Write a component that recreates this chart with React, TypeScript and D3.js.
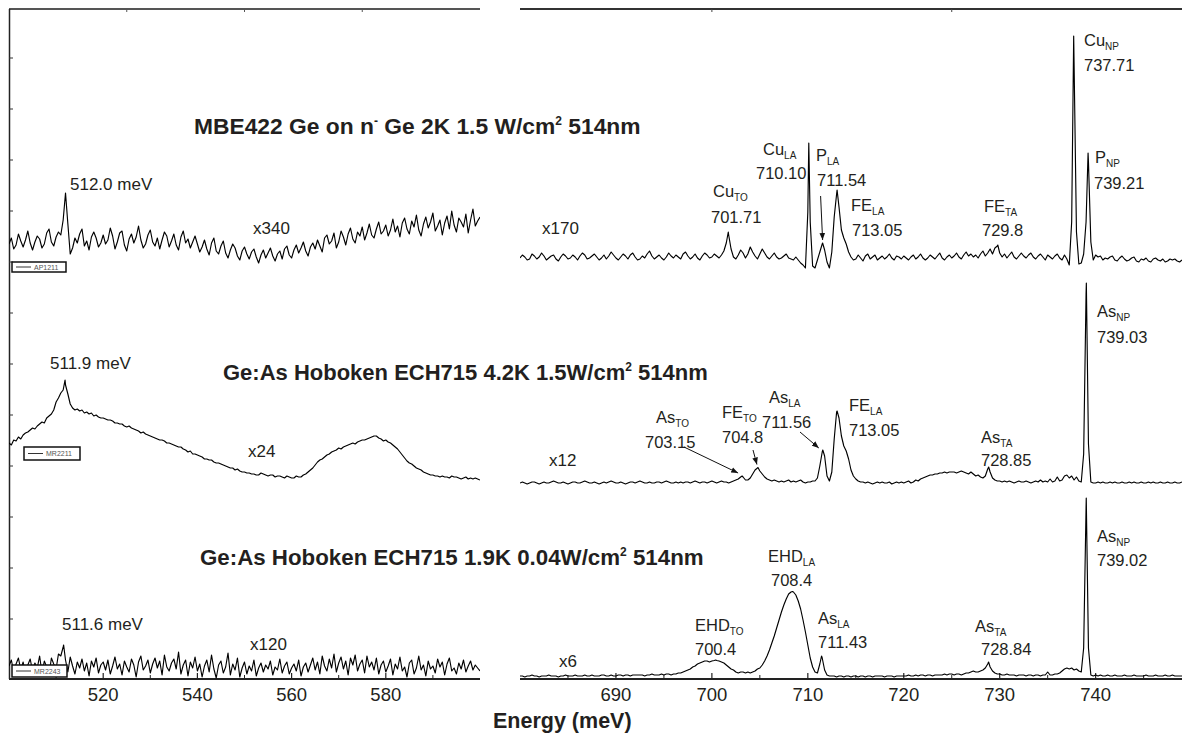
import React from "react";
import * as d3 from "d3";

// ---------- spectra (intensity in arbitrary units, 0 = trace baseline) ----------
// low-energy window, sampled every 0.5 meV from 500 meV
const L_START = 500;
const L_STEP = 0.5;

const AP1211 = [
  18,24,13,17,28,21,15,22,31,19, 12,20,26,23,14,18,29,33,20,16,
  25,30,27,42,69,38,8,14,24,19, 28,33,16,21,12,25,30,24,15,19,
  27,18,22,34,26,13,20,29,31,17, 11,23,28,19,25,36,22,14,18,27,
  32,20,16,24,13,22,30,26,15,21, 28,17,12,25,31,19,23,14,20,26,
  18,10,15,22,13,7,19,24,11,8, 16,21,9,4,12,18,14,6,2,11,
  15,8,3,10,13,5,-1,7,12,4, 9,14,6,1,8,11,3,13,16,7,
  4,12,17,9,14,20,11,6,15,19, 13,22,16,10,24,27,18,21,29,14,
  20,31,25,17,28,34,23,19,30,26, 35,22,29,38,27,24,33,40,28,31,
  37,26,32,43,30,36,25,39,44,33, 28,41,35,47,32,26,38,45,34,40,
  49,31,36,42,27,39,46,33,51,37, 30,44,40,35,48,29,42,53,36,41,
  45,
];
const AP1211_LINES: [number, number][] = [[512.0, 69]];

const MR2211 = [
  47,45,50,49,53,51,55,57,58,60, 62,61,64,66,68,67,72,74,76,80,
  88,92,97,100,105,96,86,82,80,81, 79,80,77,78,76,77,74,75,73,72,
  72,71,70,70,69,67,67,66,66,64, 63,64,62,61,60,59,57,58,56,55,
  54,53,52,51,50,50,49,47,47,46, 45,44,43,43,41,40,38,39,36,36,
  35,34,33,31,31,30,30,28,27,27, 26,25,24,23,22,22,20,21,19,18,
  18,17,17,16,16,15,15,17,16,15, 14,15,15,13,14,14,13,12,14,13,
  12,12,14,13,13,15,16,18,20,22, 25,28,30,31,33,35,36,38,39,40,
  42,41,43,44,45,46,47,46,48,49, 50,50,51,52,53,54,54,52,51,49,
  50,48,47,45,43,41,38,35,32,29, 27,26,24,22,21,20,18,17,16,15,
  15,14,14,13,14,13,13,12,14,13, 13,12,11,12,13,11,12,11,12,11,
  10,
];
const MR2211_LINES: [number, number][] = [[511.9, 110]];

const MR2243 = [
  14,20,8,16,22,10,18,6,15,21, 9,17,12,24,7,19,13,5,22,16,
  11,26,24,33,20,8,23,14,6,18, 12,21,9,17,4,19,13,22,7,15,
  18,10,20,6,14,23,11,16,5,19, 13,8,21,15,3,18,24,10,14,20,
  7,16,22,12,19,5,25,13,9,17, 21,11,28,6,15,20,4,18,12,23,
  9,16,3,14,20,8,25,11,2,15, 19,7,13,27,5,16,10,22,3,12,
  18,6,14,9,20,4,12,17,8,15, 11,19,5,13,10,21,7,14,18,6,
  12,16,9,20,4,13,17,8,15,22, 10,18,6,24,14,9,21,12,26,8,
  17,23,11,19,5,22,15,25,9,16, 20,7,24,13,18,10,22,6,15,19,
  8,14,21,5,16,11,23,9,13,3, 17,20,6,12,24,10,15,4,19,11,
  14,7,21,13,18,5,16,22,9,12, 6,17,11,20,8,14,19,10,15,12,
  9,
];
const MR2243_LINES: [number, number][] = [[511.6, 35]];

// near-gap window, sampled every 0.25 meV from 680 meV
const R_START = 680;
const R_STEP = 0.25;

const MBE422 = [
  4,7,5,2,3,8,6,3,5,9, 6,2,4,6,7,3,1,5,8,6,
  3,4,7,5,2,6,9,7,3,4, 6,8,5,2,4,7,3,6,10,7,
  4,2,5,8,6,3,7,9,5,2, 3,6,4,8,11,6,3,5,7,4,
  2,5,9,6,4,7,5,3,8,10, 6,3,5,8,4,2,6,9,7,4,
  5,8,6,4,7,11,19,27,13,5, 3,7,12,9,4,8,15,10,6,3,
  8,13,9,5,3,6,9,5,3,4, 6,8,4,3,2,5,2,-1,-3,-6,
  50,40,-4,-6,2,10,18,12,0,-6, 10,45,68,55,32,24,18,10,5,2,
  3,7,4,1,6,8,3,5,7,2, 4,6,3,5,8,4,2,6,5,3,
  6,4,2,5,7,3,5,8,4,2, 4,7,5,3,6,9,4,2,5,7,
  4,6,9,5,3,7,10,6,8,5, 7,4,8,11,6,9,13,8,14,16,
  9,5,8,4,7,10,5,3,6,9, 6,4,7,9,5,3,6,8,5,2,
  7,5,3,6,8,4,2,7,3,-3, 40,200,30,-2,-1,8,40,100,20,2,
  7,5,6,2,4,3,5,6,2,1, 4,6,3,1,2,4,5,1,0,3,
  2,4,1,0,3,4,2,1,3,0, 1,3,2,3,1,0,2,
];
const MBE422_LINES: [number, number][] = [
  [701.71, 30], [710.10, 119], [711.54, 19], [713.05, 72],
  [729.8, 17], [737.71, 226], [739.21, 109],
];

const ECH715_42K = [
  1,2,1,0,1,2,2,1,0,1, 2,1,1,2,3,2,1,1,2,1,
  0,1,2,2,1,1,2,3,2,1, 1,2,1,0,1,2,1,2,3,2,
  1,1,2,1,0,1,2,2,1,2, 3,2,1,1,2,1,1,2,2,1,
  2,3,2,1,1,2,1,2,1,2, 2,1,2,3,2,1,2,2,1,2,
  3,2,1,2,3,2,2,1,2,3, 4,5,7,7,4,4,6,10,14,16,
  13,10,7,5,4,3,4,3,2,3, 2,3,4,2,3,2,3,4,2,1,
  2,2,3,3,6,18,32,28,8,3, 12,45,72,66,48,38,33,25,14,8,
  5,3,2,2,1,2,1,0,1,2, 1,2,1,1,2,0,1,2,1,2,
  1,2,3,1,2,4,3,5,6,7, 8,9,9,10,10,11,11,12,11,12,
  12,12,11,12,13,12,11,10,12,10, 8,9,7,6,8,15,12,6,4,3,
  3,2,3,2,3,2,1,2,3,2, 2,3,2,1,2,3,2,4,2,3,
  2,5,2,3,7,3,4,8,9,6, 8,4,7,3,2,30,190,40,2,1,
  1,2,1,2,1,1,2,1,2,1, 1,2,1,1,2,1,2,1,1,2,
  1,1,2,1,2,1,1,2,1,1, 2,1,1,2,1,1,2,
];
const ECH715_42K_LINES: [number, number][] = [
  [703.15, 8], [704.8, 16.5], [711.56, 34], [713.05, 73], [728.85, 17], [739.03, 201],
];

const ECH715_19K = [
  2,2,1,2,2,3,2,2,1,2, 2,2,3,2,2,2,1,2,2,3,
  2,2,2,3,2,2,2,3,2,2, 3,2,2,2,3,3,2,2,3,2,
  2,3,3,2,3,3,2,3,3,3, 3,3,2,3,3,4,3,3,3,4,
  3,4,4,3,4,4,5,5,6,7, 8,9,11,12,14,15,16,17,17,16,
  17,17.5,17.5,17,16,15,13,11,9,8, 6,5,6,6,5,6,5,6,7,9,
  10,13,17,22,28,35,42,50,58,66, 73,79,84,86,86,83,77,69,58,46,
  33,20,11,6,5,14,20,8,3,2, 2,2,1,2,2,1,2,2,1,2,
  2,1,2,2,1,2,2,1,2,2, 2,2,1,2,2,2,1,2,2,2,
  2,2,3,2,2,3,2,3,3,2, 3,3,2,3,3,3,3,4,3,4,
  4,3,4,4,3,4,5,5,6,7, 6,6,7,8,10,14,11,7,5,4,
  4,3,3,4,3,3,3,2,3,3, 3,2,3,3,2,3,3,2,3,3,
  6,3,3,4,4,5,7,9,10,9, 10,8,9,7,6,30,170,30,3,2,
  3,2,3,2,2,3,2,2,3,2, 2,2,3,2,2,2,3,2,2,2,
  2,3,2,2,2,3,2,2,2,3, 2,2,3,2,2,2,2,
];
const ECH715_19K_LINES: [number, number][] = [
  [700.4, 18], [708.4, 86.5], [711.43, 22], [728.84, 16], [739.02, 180],
];

// ---------- axis ticks ----------
const L_MAJOR = [520, 540, 560, 580];
const L_MINOR = [510, 530, 550, 570, 590];
const L_TOP = [525, 550, 575];
const R_MAJOR = [690, 700, 710, 720, 730, 740];
const R_MINOR = [685, 695, 705, 715, 725, 735, 745];
const R_TOP = [700, 725];

// ---------- text ----------
const TITLES = [
  { parts: ["MBE422 Ge on n", "-", " Ge 2K 1.5 W/cm", "2", " 514nm"], x: 194, y: 134, size: 22.8 },
  { parts: ["Ge:As Hoboken ECH715 4.2K 1.5W/cm", "2", " 514nm"], x: 223, y: 380, size: 22 },
  { parts: ["Ge:As Hoboken ECH715 1.9K 0.04W/cm", "2", " 514nm"], x: 200, y: 565, size: 22.3 },
];

// species + phonon replica, line energy, name position (x, y) and value position (vx, vy)
const PEAK_LABELS = [
  // top spectrum
  { sp: "Cu", sub: "TO", val: "701.71", x: 713, y: 197, vx: 711, vy: 223 },
  { sp: "Cu", sub: "LA", val: "710.10", x: 763, y: 155, vx: 756, vy: 179 },
  { sp: "P", sub: "LA", val: "711.54", x: 816, y: 161, vx: 817, vy: 186 },
  { sp: "FE", sub: "LA", val: "713.05", x: 851, y: 211, vx: 852, vy: 236 },
  { sp: "FE", sub: "TA", val: "729.8", x: 984, y: 212, vx: 982, vy: 236 },
  { sp: "Cu", sub: "NP", val: "737.71", x: 1084, y: 46, vx: 1084, vy: 71 },
  { sp: "P", sub: "NP", val: "739.21", x: 1095, y: 163, vx: 1094, vy: 189 },
  // middle spectrum
  { sp: "As", sub: "TO", val: "703.15", x: 656, y: 423, vx: 645, vy: 448 },
  { sp: "FE", sub: "TO", val: "704.8", x: 722, y: 418, vx: 722, vy: 443 },
  { sp: "As", sub: "LA", val: "711.56", x: 769, y: 403, vx: 762, vy: 428 },
  { sp: "FE", sub: "LA", val: "713.05", x: 849, y: 411, vx: 849, vy: 436 },
  { sp: "As", sub: "TA", val: "728.85", x: 981, y: 443, vx: 981, vy: 466 },
  { sp: "As", sub: "NP", val: "739.03", x: 1097, y: 317, vx: 1097, vy: 343 },
  // bottom spectrum
  { sp: "EHD", sub: "TO", val: "700.4", x: 695, y: 631, vx: 695, vy: 655 },
  { sp: "EHD", sub: "LA", val: "708.4", x: 768, y: 562, vx: 771, vy: 586 },
  { sp: "As", sub: "LA", val: "711.43", x: 818, y: 624, vx: 818, vy: 648 },
  { sp: "As", sub: "TA", val: "728.84", x: 975, y: 632, vx: 981, vy: 655 },
  { sp: "As", sub: "NP", val: "739.02", x: 1097, y: 542, vx: 1097, vy: 566 },
];

const FONT = "'Liberation Sans', Arial, Helvetica, sans-serif";
const INK = "#231f20";

type Pt = [number, number];

function samples(start: number, step: number, vals: number[], lines: Pt[]): Pt[] {
  const pts: Pt[] = vals.map((v, i) => [start + i * step, v]);
  for (const l of lines) {
    if (!pts.some((p) => Math.abs(p[0] - l[0]) < 1e-6)) pts.push(l);
  }
  pts.sort((a, b) => a[0] - b[0]);
  return pts;
}

export default function App() {
  const xL = d3.scaleLinear().domain([500, 600]).range([9, 480]);
  const xR = d3.scaleLinear().domain([680, 749]).range([520, 1182]);
  const axisY = 679;
  const topY = 9;

  // one vertical scale per trace (baseline in px, 1 unit = 1 px)
  const yOf = (base: number) => d3.scaleLinear().domain([0, 100]).range([base, base - 100]);

  const traces = [
    { pts: samples(L_START, L_STEP, AP1211, AP1211_LINES), x: xL, y: yOf(262) },
    { pts: samples(L_START, L_STEP, MR2211, MR2211_LINES), x: xL, y: yOf(490) },
    { pts: samples(L_START, L_STEP, MR2243, MR2243_LINES), x: xL, y: yOf(680) },
    { pts: samples(R_START, R_STEP, MBE422, MBE422_LINES), x: xR, y: yOf(262) },
    { pts: samples(R_START, R_STEP, ECH715_42K, ECH715_42K_LINES), x: xR, y: yOf(484) },
    { pts: samples(R_START, R_STEP, ECH715_19K, ECH715_19K_LINES), x: xR, y: yOf(678) },
  ];

  const yTop = traces[3].y, yMid = traces[4].y;

  // arrows pointing at weak lines: start point, target line energy, target trace
  const arrows = [
    { x1: xR(711.54) - 2, y1: 196, e: 711.54, v: 19, y: yTop, dx: 0, gap: 3 },
    { x1: 684, y1: 447, e: 703.15, v: 8, y: yMid, dx: -4, gap: 3 },
    { x1: 753, y1: 450, e: 704.8, v: 16.5, y: yMid, dx: -1, gap: 3 },
    { x1: 800, y1: 432, e: 711.56, v: 34, y: yMid, dx: -4, gap: 2 },
  ];

  const legends = [
    { name: "AP1211", x: 12, y: 262, w: 54, h: 10 },
    { name: "MR2211", x: 24, y: 447, w: 56, h: 13 },
    { name: "MR2243", x: 12, y: 665, w: 55, h: 12 },
  ];

  const leftTicksY = d3.range(58, axisY - 10, 51);

  return (
    <svg width={1182} height={735} style={{ display: "block", position: "absolute", left: 0, top: 0, background: "#fff" }}
      fontFamily={FONT}>
      <defs>
        <clipPath id="clipL"><rect x={9} y={0} width={471} height={735} /></clipPath>
        <clipPath id="clipR"><rect x={520} y={0} width={662} height={735} /></clipPath>
        <marker id="ah" viewBox="0 0 10 10" refX="10" refY="5" markerWidth="7" markerHeight="7" orient="auto" markerUnits="userSpaceOnUse">
          <path d="M0,1 L10,5 L0,9 Z" fill="#111" />
        </marker>
      </defs>

      {/* frames */}
      <line x1={9} x2={480} y1={topY} y2={topY} stroke="#555" strokeWidth={2} />
      <line x1={520} x2={1182} y1={topY} y2={topY} stroke="#333" strokeWidth={2} />
      <line x1={9.5} x2={9.5} y1={topY} y2={axisY} stroke="#222" strokeWidth={1.5} />
      <line x1={9} x2={480} y1={axisY} y2={axisY} stroke="#222" strokeWidth={2} />
      <line x1={520} x2={1182} y1={axisY} y2={axisY} stroke="#222" strokeWidth={2} />

      {leftTicksY.map((t) => (
        <line key={"ly" + t} x1={9} x2={13} y1={t} y2={t} stroke="#333" strokeWidth={1} />
      ))}
      {L_TOP.map((t) => (
        <line key={"lt" + t} x1={xL(t)} x2={xL(t)} y1={topY} y2={topY + 3} stroke="#555" strokeWidth={1} />
      ))}
      {R_TOP.map((t) => (
        <line key={"rt" + t} x1={xR(t)} x2={xR(t)} y1={topY} y2={topY + 3} stroke="#444" strokeWidth={1} />
      ))}
      {L_MAJOR.map((t) => (
        <g key={"lm" + t}>
          <line x1={xL(t)} x2={xL(t)} y1={axisY} y2={axisY - 6} stroke="#222" strokeWidth={1.2} />
          <text x={xL(t)} y={axisY + 22} textAnchor="middle" fontSize={18.5} fill={INK}>{t}</text>
        </g>
      ))}
      {L_MINOR.map((t) => (
        <line key={"ln" + t} x1={xL(t)} x2={xL(t)} y1={axisY} y2={axisY - 4} stroke="#222" strokeWidth={1} />
      ))}
      {R_MAJOR.map((t) => (
        <g key={"rm" + t}>
          <line x1={xR(t)} x2={xR(t)} y1={axisY} y2={axisY - 6} stroke="#222" strokeWidth={1.2} />
          <text x={xR(t)} y={axisY + 22} textAnchor="middle" fontSize={18.5} fill={INK}>{t}</text>
        </g>
      ))}
      {R_MINOR.map((t) => (
        <line key={"rn" + t} x1={xR(t)} x2={xR(t)} y1={axisY} y2={axisY - 4} stroke="#222" strokeWidth={1} />
      ))}

      <text x={493} y={728} fontSize={21.5} fontWeight="bold" fill={INK}>Energy (meV)</text>

      {/* spectra */}
      {traces.map((t, i) => {
        const line = d3.line<Pt>().x((d) => t.x(d[0])).y((d) => t.y(d[1]));
        return (
          <path key={"tr" + i} d={line(t.pts) || ""} fill="none" stroke="#000" strokeWidth={1.15}
            strokeLinejoin="round" clipPath={i < 3 ? "url(#clipL)" : "url(#clipR)"} />
        );
      })}

      {/* legends */}
      {legends.map((l) => (
        <g key={l.name}>
          <rect x={l.x} y={l.y} width={l.w} height={l.h} fill="#fff" stroke="#111" strokeWidth={1.5} />
          <line x1={l.x + 4} x2={l.x + 19} y1={l.y + l.h / 2} y2={l.y + l.h / 2} stroke="#333" strokeWidth={1} />
          <text x={l.x + 22} y={l.y + l.h / 2 + 2.5} fontSize={7} fill="#555">{l.name}</text>
        </g>
      ))}

      {/* titles */}
      {TITLES.map((t, i) => (
        <text key={"ti" + i} x={t.x} y={t.y} fontSize={t.size} fontWeight="bold" fill={INK}>
          {t.parts.map((p, j) => {
            const sup = p === "-" || p === "2";
            return sup ? (
              <tspan key={j} fontSize={12} dy={-9}>{p}</tspan>
            ) : (
              <tspan key={j} dy={j > 0 ? 9 : 0}>{p}</tspan>
            );
          })}
        </text>
      ))}

      {/* low-energy annotations */}
      <text x={70} y={190} fontSize={17} fill={INK}>512.0 meV</text>
      <text x={253} y={234} fontSize={17} fill={INK}>x340</text>
      <text x={50} y={369} fontSize={17} fill={INK}>511.9 meV</text>
      <text x={248} y={457} fontSize={17} fill={INK}>x24</text>
      <text x={62} y={630} fontSize={17} fill={INK}>511.6 meV</text>
      <text x={250} y={650} fontSize={17} fill={INK}>x120</text>

      <text x={542} y={234} fontSize={17} fill={INK}>x170</text>
      <text x={549} y={466} fontSize={17} fill={INK}>x12</text>
      <text x={559} y={667} fontSize={17} fill={INK}>x6</text>

      {PEAK_LABELS.map((p, i) => (
        <g key={"pl" + i} fill={INK}>
          <text x={p.x} y={p.y} fontSize={16.5}>
            {p.sp}
            <tspan fontSize={10} dy={4}>{p.sub}</tspan>
          </text>
          <text x={p.vx} y={p.vy} fontSize={16.5}>{p.val}</text>
        </g>
      ))}

      {arrows.map((a, i) => {
        const tx = xR(a.e) + a.dx;
        const ty = a.y(a.v) - a.gap;
        return <line key={"ar" + i} x1={a.x1} y1={a.y1} x2={tx} y2={ty} stroke="#111" strokeWidth={1} markerEnd="url(#ah)" />;
      })}
    </svg>
  );
}
